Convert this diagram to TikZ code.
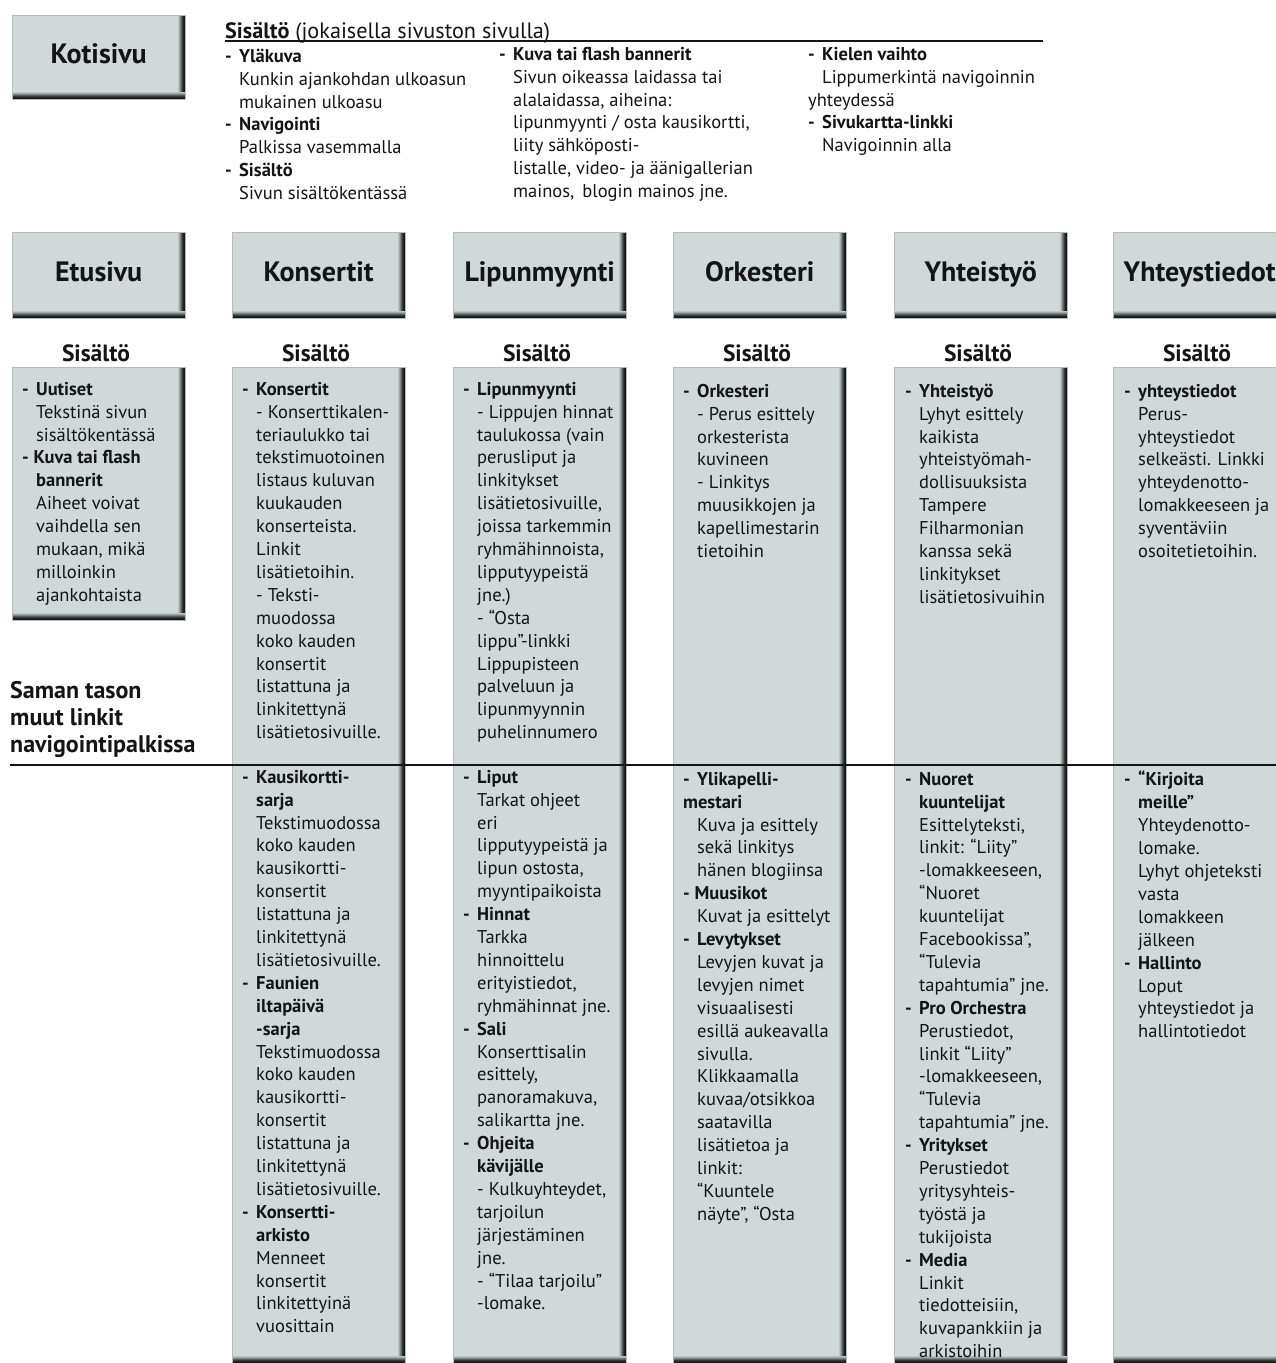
\documentclass[tikz,border=0pt]{standalone}
\usepackage{fontspec}
\setmainfont{PT Sans}
\definecolor{boxfill}{RGB}{208,216,218}
\definecolor{boxdark}{RGB}{18,20,20}
\definecolor{boxedge}{RGB}{180,188,190}
\definecolor{ink}{RGB}{20,20,20}
\newcommand\dashx{\makebox[14pt][l]{-}}
\newcommand\indx{\hspace*{14pt}}
\newcommand\topstrut{\rule{0pt}{14pt}}
\newcommand\bigstrut{\rule{0pt}{19pt}}
\tikzset{
  shadedbox/.style={fill=boxfill, draw=boxedge, line width=0.4pt, inner sep=0pt, anchor=north west,
    minimum width=173pt,
    path picture={
      \foreach \i/\c in {0/10,1/24,2/42,3/62,4/80,5/92,6/98}{
        \fill[boxdark!\c!boxfill]
          ([xshift={\i pt-7pt}]path picture bounding box.north east) rectangle
          ([xshift={\i pt-6pt}]path picture bounding box.south east);
      }
      \foreach \i/\c in {0/10,1/24,2/42,3/62,4/80,5/92,6/98}{
        \fill[boxdark!\c!boxfill]
          ([yshift={7pt-\i pt}]path picture bounding box.south west) rectangle
          ([yshift={6pt-\i pt}]path picture bounding box.south east);
      }
    }},
  navbox/.style={shadedbox, minimum height=86pt, text=ink, text height=20pt, text depth=8pt,
    font=\fontsize{28}{32}\selectfont\bfseries},
  colbox/.style={shadedbox},
  body/.style={anchor=north west, inner sep=0pt, align=left, text=ink, font=\fontsize{18.5}{22.9}\selectfont},
  sislabel/.style={anchor=base, inner sep=0pt, text=ink, font=\fontsize{23.5}{27}\selectfont\bfseries},
  bigtext/.style={anchor=north west, inner sep=0pt, align=left, text=ink, font=\fontsize{24}{27}\selectfont\bfseries},
  hdrtitle/.style={anchor=base west, inner sep=0pt, text=ink, font=\fontsize{22.2}{26}\selectfont},
  rule/.style={line width=1.6pt, draw=ink}
}
\begin{document}
\begin{tikzpicture}[x=1pt,y=-1pt]
\useasboundingbox (0,0) rectangle (1276,1363);
\clip (0,0) rectangle (1276,1363);
\fill[white] (0,0) rectangle (1276,1363);

% ---------- Kotisivu and header ----------
\node[navbox, minimum height=84pt] (koti) at (12,15) {Kotisivu};

\node[hdrtitle] (hdr) at (225,38) {\textbf{Sisältö} (jokaisella sivuston sivulla)};
\coordinate (hdrend) at (1043,41);
\draw[rule] (hdr.base west |- hdrend) -- (hdrend);

\node[body] (h1) at (225,48) {\topstrut\textbf{\dashx Yläkuva}\\
\indx Kunkin ajankohdan ulkoasun\\
\indx mukainen ulkoasu\\
\textbf{\dashx Navigointi}\\
\indx Palkissa vasemmalla\\
\textbf{\dashx Sisältö}\\
\indx Sivun sisältökentässä};

\node[body] (h2) at (499,46) {\topstrut\textbf{\dashx Kuva tai flash bannerit}\\
\indx Sivun oikeassa laidassa tai\\
\indx alalaidassa, aiheina:\\
\indx lipunmyynti / osta kausikortti,\\
\indx liity sähköposti-\\
\indx listalle, video- ja äänigallerian\\
\indx mainos,\, blogin mainos jne.};

\node[body] (h3) at (808,46) {\topstrut\textbf{\dashx Kielen vaihto}\\
\indx Lippumerkintä navigoinnin\\
yhteydessä\\
\textbf{\dashx Sivukartta-linkki}\\
\indx Navigoinnin alla};

% ---------- navigation boxes ----------
\node[navbox] (etu) at (12,232) {Etusivu};
\node[navbox] (kon) at (232,232) {Konsertit};
\node[navbox] (lip) at (453,232) {Lipunmyynti};
\node[navbox] (ork) at (673,232) {Orkesteri};
\node[navbox] (yht) at (894,232) {Yhteistyö};
\node[navbox] (yts) at (1113,232) {Yhteystiedot};

% ---------- Sisältö labels ----------
\node[sislabel] (s1) at (96,361) {Sisältö};
\node[sislabel] (s2) at (316,361) {Sisältö};
\node[sislabel] (s3) at (537,361) {Sisältö};
\node[sislabel] (s4) at (757,361) {Sisältö};
\node[sislabel] (s5) at (978,361) {Sisältö};
\node[sislabel] (s6) at (1197,361) {Sisältö};

% ---------- content columns ----------
\node[colbox, minimum height=253pt] (c1) at (12,367) {};
\node[colbox, minimum height=996pt] (c2) at (232,367) {};
\node[colbox, minimum height=996pt] (c3) at (453,367) {};
\node[colbox, minimum height=996pt] (c4) at (673,367) {};
\node[colbox, minimum height=996pt] (c5) at (894,367) {};
\node[colbox, minimum height=996pt] (c6) at (1113,367) {};

% Etusivu
\node[body] (t1) at (22,381) {\topstrut\textbf{\dashx Uutiset}\\
\indx Tekstinä sivun\\
\indx sisältökentässä\\
\textbf{- Kuva tai flash}\\
\indx\textbf{bannerit}\\
\indx Aiheet voivat\\
\indx vaihdella sen\\
\indx mukaan, mikä\\
\indx milloinkin\\
\indx ajankohtaista};

% Konsertit
\node[body] (t2) at (242,381) {\topstrut\textbf{\dashx Konsertit}\\
\indx - Konserttikalen-\\
\indx teriaulukko tai\\
\indx tekstimuotoinen\\
\indx listaus kuluvan\\
\indx kuukauden\\
\indx konserteista.\\
\indx Linkit\\
\indx lisätietoihin.\\
\indx - Teksti-\\
\indx muodossa\\
\indx koko kauden\\
\indx konsertit\\
\indx listattuna ja\\
\indx linkitettynä\\
\indx lisätietosivuille.};

\node[body] (b2) at (242,769) {\topstrut\textbf{\dashx Kausikortti-}\\
\indx\textbf{sarja}\\
\indx Tekstimuodossa\\
\indx koko kauden\\
\indx kausikortti-\\
\indx konsertit\\
\indx listattuna ja\\
\indx linkitettynä\\
\indx lisätietosivuille.\\
\textbf{\dashx Faunien}\\
\indx\textbf{iltapäivä}\\
\indx\textbf{-sarja}\\
\indx Tekstimuodossa\\
\indx koko kauden\\
\indx kausikortti-\\
\indx konsertit\\
\indx listattuna ja\\
\indx linkitettynä\\
\indx lisätietosivuille.\\
\textbf{\dashx Konsertti-}\\
\indx\textbf{arkisto}\\
\indx Menneet\\
\indx konsertit\\
\indx linkitettyinä\\
\indx vuosittain};

% Lipunmyynti
\node[body] (t3) at (463,381) {\topstrut\textbf{\dashx Lipunmyynti}\\
\indx - Lippujen hinnat\\
\indx taulukossa (vain\\
\indx perusliput ja\\
\indx linkitykset\\
\indx lisätietosivuille,\\
\indx joissa tarkemmin\\
\indx ryhmähinnoista,\\
\indx lipputyypeistä\\
\indx jne.)\\
\indx - “Osta\\
\indx lippu”-linkki\\
\indx Lippupisteen\\
\indx palveluun ja\\
\indx lipunmyynnin\\
\indx puhelinnumero};

\node[body] (b3) at (463,769) {\topstrut\textbf{\dashx Liput}\\
\indx Tarkat ohjeet\\
\indx eri\\
\indx lipputyypeistä ja\\
\indx lipun ostosta,\\
\indx myyntipaikoista\\
\textbf{\dashx Hinnat}\\
\indx Tarkka\\
\indx hinnoittelu\\
\indx erityistiedot,\\
\indx ryhmähinnat jne.\\
\textbf{\dashx Sali}\\
\indx Konserttisalin\\
\indx esittely,\\
\indx panoramakuva,\\
\indx salikartta jne.\\
\textbf{\dashx Ohjeita}\\
\indx\textbf{kävijälle}\\
\indx - Kulkuyhteydet,\\
\indx tarjoilun\\
\indx järjestäminen\\
\indx jne.\\
\indx - “Tilaa tarjoilu”\\
\indx -lomake.};

% Orkesteri
\node[body] (t4) at (683,383) {\topstrut\textbf{\dashx Orkesteri}\\
\indx - Perus esittely\\
\indx orkesterista\\
\indx kuvineen\\
\indx - Linkitys\\
\indx muusikkojen ja\\
\indx kapellimestarin\\
\indx tietoihin};

\node[body] (b4) at (683,771) {\topstrut\textbf{\dashx Ylikapelli-}\\
\textbf{mestari}\\
\indx Kuva ja esittely\\
\indx sekä linkitys\\
\indx hänen blogiinsa\\
\textbf{- Muusikot}\\
\indx Kuvat ja esittelyt\\
\textbf{\dashx Levytykset}\\
\indx Levyjen kuvat ja\\
\indx levyjen nimet\\
\indx visuaalisesti\\
\indx esillä aukeavalla\\
\indx sivulla.\\
\indx Klikkaamalla\\
\indx kuvaa/otsikkoa\\
\indx saatavilla\\
\indx lisätietoa ja\\
\indx linkit:\\
\indx “Kuuntele\\
\indx näyte”, “Osta};

% Yhteistyö
\node[body] (t5) at (905,383) {\topstrut\textbf{\dashx Yhteistyö}\\
\indx Lyhyt esittely\\
\indx kaikista\\
\indx yhteistyömah-\\
\indx dollisuuksista\\
\indx Tampere\\
\indx Filharmonian\\
\indx kanssa sekä\\
\indx linkitykset\\
\indx lisätietosivuihin};

\node[body] (b5) at (905,771) {\topstrut\textbf{\dashx Nuoret}\\
\indx\textbf{kuuntelijat}\\
\indx Esittelyteksti,\\
\indx linkit: “Liity”\\
\indx -lomakkeeseen,\\
\indx “Nuoret\\
\indx kuuntelijat\\
\indx Facebookissa”,\\
\indx “Tulevia\\
\indx tapahtumia” jne.\\
\textbf{\dashx Pro Orchestra}\\
\indx Perustiedot,\\
\indx linkit “Liity”\\
\indx -lomakkeeseen,\\
\indx “Tulevia\\
\indx tapahtumia” jne.\\
\textbf{\dashx Yritykset}\\
\indx Perustiedot\\
\indx yritysyhteis-\\
\indx työstä ja\\
\indx tukijoista\\
\textbf{\dashx Media}\\
\indx Linkit\\
\indx tiedotteisiin,\\
\indx kuvapankkiin ja\\
\indx arkistoihin};

% Yhteystiedot
\node[body] (t6) at (1124,383) {\topstrut\textbf{\dashx yhteystiedot}\\
\indx Perus-\\
\indx yhteystiedot\\
\indx selkeästi. Linkki\\
\indx yhteydenotto-\\
\indx lomakkeeseen ja\\
\indx syventäviin\\
\indx osoitetietoihin.};

\node[body] (b6) at (1124,771) {\topstrut\textbf{\dashx “Kirjoita}\\
\indx\textbf{meille”}\\
\indx Yhteydenotto-\\
\indx lomake.\\
\indx Lyhyt ohjeteksti\\
\indx vasta\\
\indx lomakkeen\\
\indx jälkeen\\
\textbf{\dashx Hallinto}\\
\indx Loput\\
\indx yhteystiedot ja\\
\indx hallintotiedot};

% ---------- level label and divider ----------
\node[bigtext] (level) at (10,679) {\bigstrut Saman tason\\ muut linkit\\ navigointipalkissa};
\coordinate (divL) at (10,765);
\coordinate (divR) at (1276,765);
\draw[rule] (divL) -- (divR);
\end{tikzpicture}
\end{document}
